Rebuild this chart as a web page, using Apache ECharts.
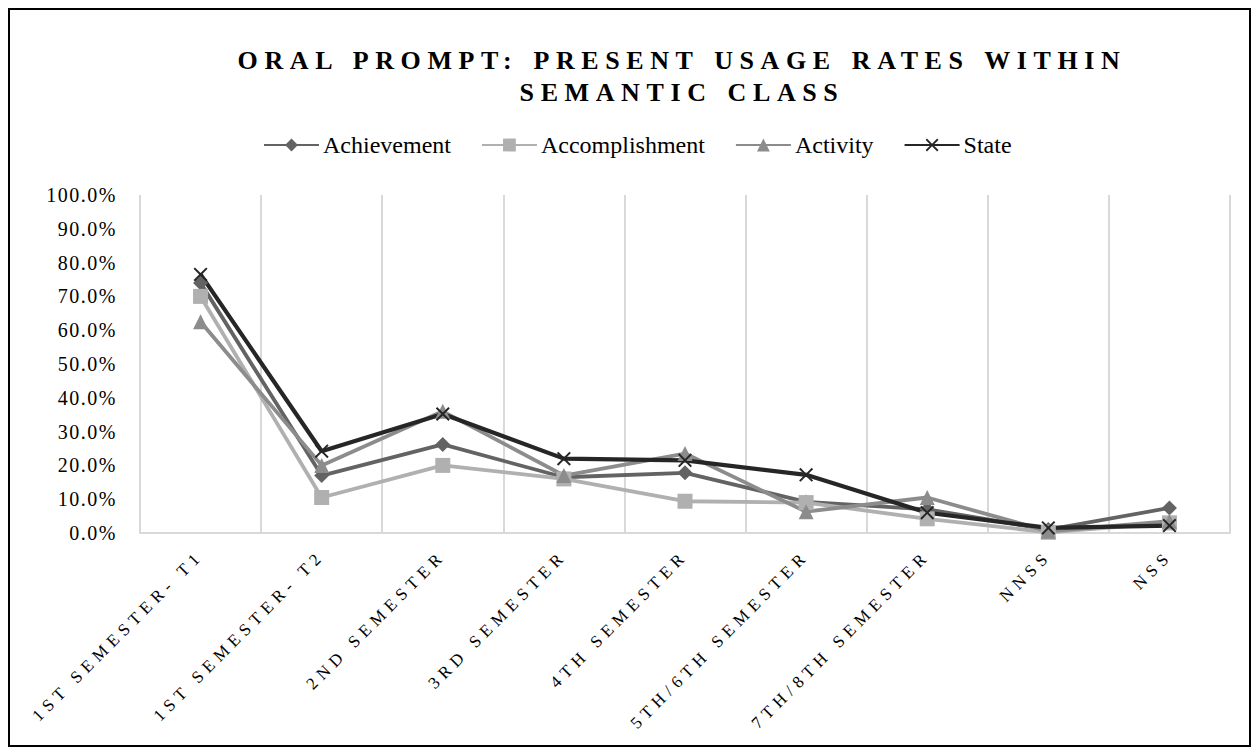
<!DOCTYPE html>
<html>
<head>
<meta charset="utf-8">
<script src="https://cdn.jsdelivr.net/npm/echarts@6/dist/echarts.min.js"></script>
<style>
  html, body { margin: 0; padding: 0; background: #fff; }
  #frame { position: absolute; left: 8px; top: 8px; width: 1239px; height: 735px; border: 2px solid #000; }
  #main { position: absolute; left: 0; top: 0; width: 1257px; height: 753px; }
  /* the original text is letter-spaced; echarts has no option for it, so do it in css */
  #main svg text[style*="Tinos"] { letter-spacing: 6.6px; word-spacing: 2px; }
  #main svg text[style*="Thorndale"] { letter-spacing: 5.4px; }
  #main svg text[style*="Nimbus"] { letter-spacing: 1.5px; }
</style>
</head>
<body>
<div id="frame"></div>
<div id="main"></div>
<script>
// categories on x axis
var categories = ['1ST SEMESTER- T1', '1ST SEMESTER- T2', '2ND SEMESTER', '3RD SEMESTER',
  '4TH SEMESTER', '5TH/6TH SEMESTER', '7TH/8TH SEMESTER', 'NNSS', 'NSS'];

// values in percent
var achievement    = [74.0, 17.0, 26.2, 16.5, 17.8, 9.2, 7.0, 1.0, 7.4];
var accomplishment = [70.0, 10.5, 20.0, 16.0, 9.4, 9.0, 4.2, 0.2, 3.0];
var activity       = [62.5, 20.0, 36.0, 17.0, 23.5, 6.3, 10.5, 0.5, 3.5];
var state          = [76.5, 24.2, 35.2, 22.0, 21.5, 17.2, 6.0, 1.5, 2.2];

// single word family names only, multi word ones get lost in the svg output
var serif = 'Times, serif';
var xMark = 'path://M0,1 L1,0 L5,4 L9,0 L10,1 L6,5 L10,9 L9,10 L5,6 L1,10 L0,9 L4,5 Z';

function mkSeries(name, data, color, symbol, size, width) {
  return {
    name: name,
    type: 'line',
    data: data,
    symbol: symbol,
    symbolSize: size,
    lineStyle: { color: color, width: width },
    itemStyle: { color: color },
    emphasis: { disabled: true },
    animation: false
  };
}

var myChart = echarts.init(document.getElementById('main'), null, { renderer: 'svg' });
var option = {
  backgroundColor: 'transparent',
  title: {
    text: 'ORAL PROMPT: PRESENT USAGE RATES WITHIN\nSEMANTIC CLASS',
    left: 677,
    textAlign: 'center',
    top: 39,
    textStyle: { fontFamily: 'Tinos, ' + serif, fontWeight: 'bold', fontSize: 26, lineHeight: 32, color: '#000' }
  },
  legend: {
    top: 128,
    left: 258,
    itemWidth: 55,
    itemHeight: 16,
    itemGap: 30,
    textStyle: { fontFamily: serif, fontSize: 24, color: '#000', padding: [0, 0, 0, -1] },
    data: ['Achievement', 'Accomplishment', 'Activity', 'State']
  },
  grid: { left: 140, right: 27, top: 195, bottom: 220, containLabel: false },
  xAxis: {
    type: 'category',
    data: categories,
    boundaryGap: true,
    axisLine: { lineStyle: { color: '#d9d9d9', width: 2 } },
    axisTick: { show: false },
    splitLine: { show: true, lineStyle: { color: '#d9d9d9', width: 2 } },
    axisLabel: {
      rotate: 45,
      interval: 0,
      margin: 20,
      fontFamily: 'Thorndale, ' + serif,
      fontSize: 17,
      color: '#000'
    }
  },
  yAxis: {
    type: 'value',
    min: 0,
    max: 100,
    interval: 10,
    axisLine: { show: false },
    axisTick: { show: false },
    splitLine: { show: false },
    axisLabel: {
      margin: 23,
      fontFamily: 'Nimbus, ' + serif,
      fontSize: 20,
      color: '#000',
      formatter: function (v) { return v.toFixed(1) + '%'; }
    }
  },
  series: [
    mkSeries('Achievement', achievement, '#636363', 'diamond', 15, 3.8),
    mkSeries('Accomplishment', accomplishment, '#b0b0b0', 'rect', 15, 3.8),
    mkSeries('Activity', activity, '#8c8c8c', 'triangle', 15, 3.8),
    mkSeries('State', state, '#262626', xMark, 14, 4.2)
  ]
};
myChart.setOption(option);
</script>
</body>
</html>
